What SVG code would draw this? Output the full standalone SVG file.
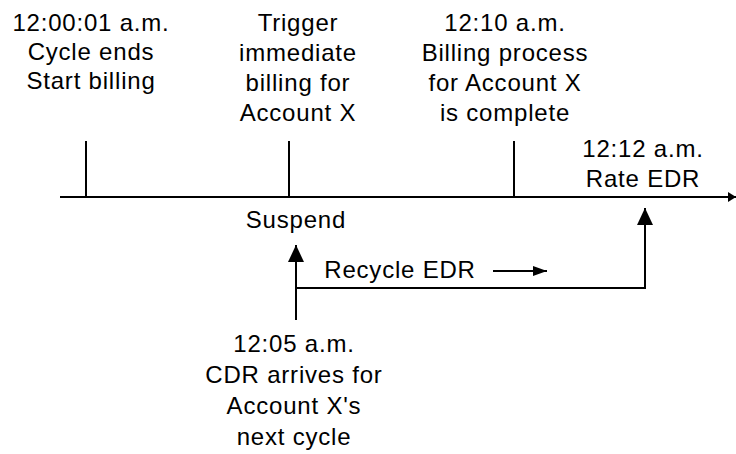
<svg xmlns="http://www.w3.org/2000/svg" width="736" height="454" viewBox="0 0 736 454">
  <style>
    .lbl { font-family: "Liberation Sans", Arial, sans-serif; font-size: 24px; letter-spacing: 0.8px; fill: #000; text-anchor: middle; }
    .ln { stroke: #000; stroke-width: 2; fill: none; }
  </style>
  <defs>
    <marker id="big" markerUnits="userSpaceOnUse" viewBox="0 0 17 16" refX="17" refY="8" markerWidth="17" markerHeight="16" orient="auto">
      <path d="M0,0 L17,8 L0,16 z" fill="#000"/>
    </marker>
    <marker id="small" markerUnits="userSpaceOnUse" viewBox="0 0 14 10" refX="14" refY="5" markerWidth="14" markerHeight="10" orient="auto">
      <path d="M0,0 L14,5 L0,10 z" fill="#000"/>
    </marker>
    <marker id="tl" markerUnits="userSpaceOnUse" viewBox="0 0 8 10" refX="8" refY="5" markerWidth="8" markerHeight="10" orient="auto">
      <path d="M0,0 L8,5 L0,10 z" fill="#000"/>
    </marker>
  </defs>
  <rect width="736" height="454" fill="#fff"/>

  <g id="connectors">
    <line class="ln" x1="60" y1="197" x2="736" y2="197" marker-end="url(#tl)"/>
    <line class="ln" x1="86" y1="141" x2="86" y2="197"/>
    <line class="ln" x1="289" y1="141" x2="289" y2="197"/>
    <line class="ln" x1="514" y1="141" x2="514" y2="197"/>
    <line class="ln" x1="296" y1="320" x2="296" y2="245" marker-end="url(#big)"/>
    <polyline class="ln" points="296,288 645,288 645,208" marker-end="url(#big)"/>
    <line class="ln" x1="493" y1="271" x2="547" y2="271" marker-end="url(#small)"/>
  </g>

  <g id="cycle-ends">
    <text class="lbl" x="91" y="31">12:00:01 a.m.</text>
    <text class="lbl" x="91" y="60">Cycle ends</text>
    <text class="lbl" x="91" y="89">Start billing</text>
  </g>

  <g id="trigger">
    <text class="lbl" x="298" y="31">Trigger</text>
    <text class="lbl" x="298" y="61">immediate</text>
    <text class="lbl" x="298" y="91">billing for</text>
    <text class="lbl" x="298" y="121">Account X</text>
  </g>

  <g id="billing-complete">
    <text class="lbl" x="505" y="31">12:10 a.m.</text>
    <text class="lbl" x="505" y="61">Billing process</text>
    <text class="lbl" x="505" y="91">for Account X</text>
    <text class="lbl" x="505" y="121">is complete</text>
  </g>

  <g id="rate-edr">
    <text class="lbl" x="643" y="157">12:12 a.m.</text>
    <text class="lbl" x="643" y="187">Rate EDR</text>
  </g>

  <g id="suspend">
    <text class="lbl" x="296" y="228">Suspend</text>
  </g>

  <g id="recycle">
    <text class="lbl" x="400" y="278">Recycle EDR</text>
  </g>

  <g id="cdr-arrives">
    <text class="lbl" x="294" y="352">12:05 a.m.</text>
    <text class="lbl" x="294" y="383">CDR arrives for</text>
    <text class="lbl" x="294" y="414">Account X's</text>
    <text class="lbl" x="294" y="445">next cycle</text>
  </g>
</svg>
